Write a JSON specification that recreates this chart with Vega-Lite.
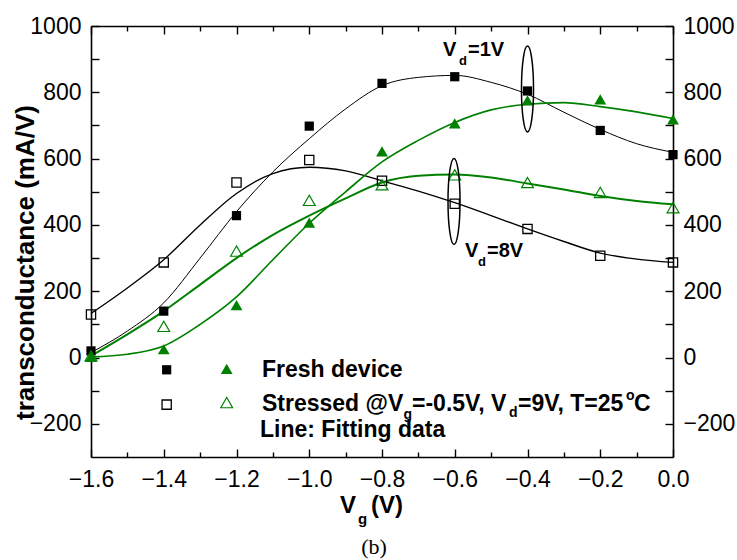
{
  "$schema": "https://vega.github.io/schema/vega-lite/v6.json",
  "width": 582,
  "height": 431,
  "autosize": {"type": "none"},
  "padding": {"left": 91, "top": 26, "right": 64, "bottom": 103},
  "background": "white",
  "config": {
    "view": {"stroke": null},
    "axis": {
      "labelFont": "Liberation Sans", "labelFontSize": 23, "labelColor": "black",
      "domainColor": "black", "tickColor": "black", "domainWidth": 1.6, "tickWidth": 1.4,
      "grid": false, "titleFont": "Liberation Sans", "titleColor": "black"
    },
    "text": {"font": "Liberation Sans", "color": "black"}
  },
  "datasets": {
    "points": [
      {"series": "sq_filled", "vg": -1.6, "gm": 20},
      {"series": "sq_filled", "vg": -1.4, "gm": 140},
      {"series": "sq_filled", "vg": -1.2, "gm": 428},
      {"series": "sq_filled", "vg": -1.0, "gm": 698},
      {"series": "sq_filled", "vg": -0.8, "gm": 827},
      {"series": "sq_filled", "vg": -0.6, "gm": 847},
      {"series": "sq_filled", "vg": -0.4, "gm": 804},
      {"series": "sq_filled", "vg": -0.2, "gm": 685},
      {"series": "sq_filled", "vg": 0.0, "gm": 612},
      {"series": "sq_open", "vg": -1.6, "gm": 130},
      {"series": "sq_open", "vg": -1.4, "gm": 287},
      {"series": "sq_open", "vg": -1.2, "gm": 528},
      {"series": "sq_open", "vg": -1.0, "gm": 596},
      {"series": "sq_open", "vg": -0.8, "gm": 533},
      {"series": "sq_open", "vg": -0.6, "gm": 464},
      {"series": "sq_open", "vg": -0.4, "gm": 388},
      {"series": "sq_open", "vg": -0.2, "gm": 307},
      {"series": "sq_open", "vg": 0.0, "gm": 287},
      {"series": "tri_filled", "vg": -1.6, "gm": 2},
      {"series": "tri_filled", "vg": -1.4, "gm": 25},
      {"series": "tri_filled", "vg": -1.2, "gm": 158},
      {"series": "tri_filled", "vg": -1.0, "gm": 407},
      {"series": "tri_filled", "vg": -0.8, "gm": 622},
      {"series": "tri_filled", "vg": -0.6, "gm": 706},
      {"series": "tri_filled", "vg": -0.4, "gm": 776},
      {"series": "tri_filled", "vg": -0.2, "gm": 779},
      {"series": "tri_filled", "vg": 0.0, "gm": 718},
      {"series": "tri_open", "vg": -1.6, "gm": 5},
      {"series": "tri_open", "vg": -1.4, "gm": 94},
      {"series": "tri_open", "vg": -1.2, "gm": 321},
      {"series": "tri_open", "vg": -1.0, "gm": 474},
      {"series": "tri_open", "vg": -0.8, "gm": 521},
      {"series": "tri_open", "vg": -0.6, "gm": 551},
      {"series": "tri_open", "vg": -0.4, "gm": 528},
      {"series": "tri_open", "vg": -0.2, "gm": 498},
      {"series": "tri_open", "vg": 0.0, "gm": 452},
      {"series": "sq_filled", "vg": -1.392, "gm": -37},
      {"series": "tri_filled", "vg": -1.227, "gm": -34},
      {"series": "sq_open", "vg": -1.392, "gm": -142},
      {"series": "tri_open", "vg": -1.227, "gm": -136}
    ],
    "fits": [
      {"series": "fit_sq_filled", "vg": -1.6, "gm": 15},
      {"series": "fit_sq_filled", "vg": -1.5, "gm": 80},
      {"series": "fit_sq_filled", "vg": -1.4, "gm": 165},
      {"series": "fit_sq_filled", "vg": -1.3, "gm": 300},
      {"series": "fit_sq_filled", "vg": -1.2, "gm": 440},
      {"series": "fit_sq_filled", "vg": -1.1, "gm": 560},
      {"series": "fit_sq_filled", "vg": -1.0, "gm": 660},
      {"series": "fit_sq_filled", "vg": -0.9, "gm": 750},
      {"series": "fit_sq_filled", "vg": -0.8, "gm": 820},
      {"series": "fit_sq_filled", "vg": -0.7, "gm": 845},
      {"series": "fit_sq_filled", "vg": -0.6, "gm": 851},
      {"series": "fit_sq_filled", "vg": -0.5, "gm": 830},
      {"series": "fit_sq_filled", "vg": -0.4, "gm": 794},
      {"series": "fit_sq_filled", "vg": -0.3, "gm": 740},
      {"series": "fit_sq_filled", "vg": -0.2, "gm": 688},
      {"series": "fit_sq_filled", "vg": -0.1, "gm": 645},
      {"series": "fit_sq_filled", "vg": 0.0, "gm": 619},
      {"series": "fit_sq_open", "vg": -1.6, "gm": 133},
      {"series": "fit_sq_open", "vg": -1.5, "gm": 210},
      {"series": "fit_sq_open", "vg": -1.4, "gm": 295},
      {"series": "fit_sq_open", "vg": -1.3, "gm": 400},
      {"series": "fit_sq_open", "vg": -1.2, "gm": 495},
      {"series": "fit_sq_open", "vg": -1.1, "gm": 555},
      {"series": "fit_sq_open", "vg": -1.0, "gm": 574},
      {"series": "fit_sq_open", "vg": -0.9, "gm": 563},
      {"series": "fit_sq_open", "vg": -0.8, "gm": 533},
      {"series": "fit_sq_open", "vg": -0.7, "gm": 502},
      {"series": "fit_sq_open", "vg": -0.6, "gm": 467},
      {"series": "fit_sq_open", "vg": -0.5, "gm": 428},
      {"series": "fit_sq_open", "vg": -0.4, "gm": 388},
      {"series": "fit_sq_open", "vg": -0.3, "gm": 350},
      {"series": "fit_sq_open", "vg": -0.2, "gm": 315},
      {"series": "fit_sq_open", "vg": -0.1, "gm": 297},
      {"series": "fit_sq_open", "vg": 0.0, "gm": 287},
      {"series": "fit_tri_filled", "vg": -1.6, "gm": 2},
      {"series": "fit_tri_filled", "vg": -1.5, "gm": 10},
      {"series": "fit_tri_filled", "vg": -1.4, "gm": 35},
      {"series": "fit_tri_filled", "vg": -1.3, "gm": 100},
      {"series": "fit_tri_filled", "vg": -1.2, "gm": 183},
      {"series": "fit_tri_filled", "vg": -1.1, "gm": 295},
      {"series": "fit_tri_filled", "vg": -1.0, "gm": 405},
      {"series": "fit_tri_filled", "vg": -0.9, "gm": 500},
      {"series": "fit_tri_filled", "vg": -0.8, "gm": 590},
      {"series": "fit_tri_filled", "vg": -0.7, "gm": 655},
      {"series": "fit_tri_filled", "vg": -0.6, "gm": 709},
      {"series": "fit_tri_filled", "vg": -0.5, "gm": 747},
      {"series": "fit_tri_filled", "vg": -0.4, "gm": 764},
      {"series": "fit_tri_filled", "vg": -0.3, "gm": 769},
      {"series": "fit_tri_filled", "vg": -0.2, "gm": 757},
      {"series": "fit_tri_filled", "vg": -0.1, "gm": 741},
      {"series": "fit_tri_filled", "vg": 0.0, "gm": 721},
      {"series": "fit_tri_open", "vg": -1.6, "gm": 5},
      {"series": "fit_tri_open", "vg": -1.5, "gm": 70},
      {"series": "fit_tri_open", "vg": -1.4, "gm": 140},
      {"series": "fit_tri_open", "vg": -1.3, "gm": 220},
      {"series": "fit_tri_open", "vg": -1.2, "gm": 300},
      {"series": "fit_tri_open", "vg": -1.1, "gm": 370},
      {"series": "fit_tri_open", "vg": -1.0, "gm": 428},
      {"series": "fit_tri_open", "vg": -0.9, "gm": 480},
      {"series": "fit_tri_open", "vg": -0.8, "gm": 528},
      {"series": "fit_tri_open", "vg": -0.7, "gm": 548},
      {"series": "fit_tri_open", "vg": -0.6, "gm": 552},
      {"series": "fit_tri_open", "vg": -0.5, "gm": 543},
      {"series": "fit_tri_open", "vg": -0.4, "gm": 525},
      {"series": "fit_tri_open", "vg": -0.3, "gm": 507},
      {"series": "fit_tri_open", "vg": -0.2, "gm": 487},
      {"series": "fit_tri_open", "vg": -0.1, "gm": 472},
      {"series": "fit_tri_open", "vg": 0.0, "gm": 462}
    ],
    "ellipses": [
      {"vg": -0.4, "gm": 810},
      {"vg": -0.602, "gm": 471}
    ],
    "notes": [
      {"role": "legend", "t": "Fresh device", "x": -1.1299, "y": -37},
      {"role": "legend", "t": "Stressed @V", "x": -1.1299, "y": -140},
      {"role": "legsub", "t": "g", "x": -0.741, "y": -173},
      {"role": "legend", "t": "=-0.5V, V", "x": -0.7175, "y": -140},
      {"role": "legsub", "t": "d", "x": -0.4508, "y": -167},
      {"role": "legend", "t": "=9V, T=25", "x": -0.4261, "y": -140},
      {"role": "legsub", "t": "o", "x": -0.1292, "y": -115},
      {"role": "legend", "t": "C", "x": -0.1072, "y": -140},
      {"role": "legend", "t": "Line: Fitting data", "x": -1.1354, "y": -218},
      {"role": "vd", "t": "V", "x": -0.6323, "y": 928},
      {"role": "vdsub", "t": "d", "x": -0.5883, "y": 894},
      {"role": "vd", "t": "=1V", "x": -0.5636, "y": 928},
      {"role": "vd", "t": "V", "x": -0.5718, "y": 321},
      {"role": "vdsub", "t": "d", "x": -0.5361, "y": 287},
      {"role": "vd", "t": "=8V", "x": -0.5113, "y": 321},
      {"role": "xt", "t": "V", "x": -0.9155, "y": -448},
      {"role": "xtsub", "t": "g", "x": -0.866, "y": -487},
      {"role": "xt", "t": "(V)", "x": -0.8302, "y": -448},
      {"role": "cap", "t": "(b)", "x": -0.822, "y": -572}
    ]
  },
  "layer": [
    {
      "data": {"name": "fits"},
      "mark": {"type": "line", "interpolate": "monotone"},
      "encoding": {
        "x": {"field": "vg", "type": "quantitative", "scale": {"domain": [-1.6, 0], "nice": false, "zero": false}, "axis": null},
        "y": {"field": "gm", "type": "quantitative", "scale": {"domain": [-300, 1000], "nice": false, "zero": false}, "axis": null},
        "detail": {"field": "series"},
        "color": {"field": "series", "type": "nominal", "legend": null,
          "scale": {"domain": ["fit_sq_filled", "fit_sq_open", "fit_tri_filled", "fit_tri_open"], "range": ["black", "black", "#008000", "#008000"]}},
        "strokeWidth": {"field": "series", "type": "nominal", "legend": null,
          "scale": {"domain": ["fit_sq_filled", "fit_sq_open", "fit_tri_filled", "fit_tri_open"], "range": [1, 2, 1, 2]}}
      }
    },
    {
      "data": {"name": "points"},
      "transform": [{"filter": "datum.series === 'sq_filled'"}],
      "mark": {"type": "point", "shape": "square", "filled": true, "color": "black", "size": 85, "opacity": 1},
      "encoding": {
        "x": {"field": "vg", "type": "quantitative", "scale": {"domain": [-1.6, 0], "nice": false, "zero": false},
          "axis": {"orient": "bottom", "values": [-1.6, -1.4, -1.2, -1.0, -0.8, -0.6, -0.4, -0.2, 0.0], "format": ".1f", "tickSize": -8, "labelPadding": 19, "title": null, "labelFlush": false}},
        "y": {"field": "gm", "type": "quantitative", "scale": {"domain": [-300, 1000], "nice": false, "zero": false},
          "axis": {"orient": "left", "values": [-200, -100, 0, 100, 200, 300, 400, 500, 600, 700, 800, 900, 1000], "format": "d",
            "labelExpr": "datum.value % 200 === 0 ? datum.label : ''", "tickSize": -8, "labelPadding": 18,
            "title": "transconductance (mA/V)", "titleFontSize": 26, "titleFontWeight": "bold",
            "titleX": -58, "titleY": 236, "titleBaseline": "alphabetic", "titleAngle": -90, "titleAlign": "center"}}
      }
    },
    {
      "data": {"name": "points"},
      "transform": [{"filter": "datum.series === 'sq_open'"}],
      "mark": {"type": "point", "shape": "square", "filled": false, "stroke": "black", "strokeWidth": 1.3, "size": 85, "opacity": 1},
      "encoding": {
        "x": {"field": "vg", "type": "quantitative", "scale": {"domain": [-1.6, 0], "nice": false, "zero": false},
          "axis": {"orient": "top", "values": [-1.6, -1.4, -1.2, -1.0, -0.8, -0.6, -0.4, -0.2, 0.0], "labels": false, "tickSize": -8, "title": null}},
        "y": {"field": "gm", "type": "quantitative", "scale": {"domain": [-300, 1000], "nice": false, "zero": false},
          "axis": {"orient": "right", "values": [-200, -100, 0, 100, 200, 300, 400, 500, 600, 700, 800, 900, 1000], "format": "d",
            "labelExpr": "datum.value % 200 === 0 ? datum.label : ''", "tickSize": -8, "labelPadding": 18, "title": null}}
      }
    },
    {
      "data": {"name": "points"},
      "transform": [{"filter": "datum.series === 'tri_filled'"}],
      "mark": {"type": "point", "shape": "triangle-up", "filled": true, "color": "#008000", "size": 140, "opacity": 1},
      "encoding": {
        "x": {"field": "vg", "type": "quantitative", "scale": {"domain": [-1.6, 0], "nice": false, "zero": false},
          "axis": {"orient": "bottom", "values": [-1.5, -1.3, -1.1, -0.9, -0.7, -0.5, -0.3, -0.1], "labels": false, "domain": false, "tickSize": -5, "title": null}},
        "y": {"field": "gm", "type": "quantitative", "scale": {"domain": [-300, 1000], "nice": false, "zero": false}, "axis": null}
      }
    },
    {
      "data": {"name": "points"},
      "transform": [{"filter": "datum.series === 'tri_open'"}],
      "mark": {"type": "point", "shape": "triangle-up", "filled": false, "stroke": "#008000", "strokeWidth": 1.2, "size": 140, "opacity": 1},
      "encoding": {
        "x": {"field": "vg", "type": "quantitative", "scale": {"domain": [-1.6, 0], "nice": false, "zero": false},
          "axis": {"orient": "top", "values": [-1.5, -1.3, -1.1, -0.9, -0.7, -0.5, -0.3, -0.1], "labels": false, "domain": false, "tickSize": -5, "title": null}},
        "y": {"field": "gm", "type": "quantitative", "scale": {"domain": [-300, 1000], "nice": false, "zero": false}, "axis": null}
      }
    },
    {
      "data": {"name": "ellipses"},
      "mark": {"type": "point", "shape": "M0,-1C0.0773,-1,0.14,-0.5523,0.14,0C0.14,0.5523,0.0773,1,0,1C-0.0773,1,-0.14,0.5523,-0.14,0C-0.14,-0.5523,-0.0773,-1,0,-1Z", "size": 7396, "filled": false, "stroke": "black", "strokeWidth": 1.5, "opacity": 1},
      "encoding": {
        "x": {"field": "vg", "type": "quantitative", "scale": {"domain": [-1.6, 0], "nice": false, "zero": false}, "axis": null},
        "y": {"field": "gm", "type": "quantitative", "scale": {"domain": [-300, 1000], "nice": false, "zero": false}, "axis": null}
      }
    },
    {
      "data": {"name": "notes"},
      "transform": [{"filter": "datum.role === 'legend'"}],
      "mark": {"type": "text", "align": "left", "baseline": "middle", "fontSize": 23, "fontWeight": "bold", "font": "Liberation Sans"},
      "encoding": {
        "x": {"field": "x", "type": "quantitative", "scale": {"domain": [-1.6, 0], "nice": false, "zero": false}, "axis": null},
        "y": {"field": "y", "type": "quantitative", "scale": {"domain": [-300, 1000], "nice": false, "zero": false}, "axis": null},
        "text": {"field": "t"}
      }
    },
    {
      "data": {"name": "notes"},
      "transform": [{"filter": "datum.role === 'legsub'"}],
      "mark": {"type": "text", "align": "left", "baseline": "middle", "fontSize": 14, "fontWeight": "bold", "font": "Liberation Sans"},
      "encoding": {
        "x": {"field": "x", "type": "quantitative", "scale": {"domain": [-1.6, 0], "nice": false, "zero": false}, "axis": null},
        "y": {"field": "y", "type": "quantitative", "scale": {"domain": [-300, 1000], "nice": false, "zero": false}, "axis": null},
        "text": {"field": "t"}
      }
    },
    {
      "data": {"name": "notes"},
      "transform": [{"filter": "datum.role === 'vd'"}],
      "mark": {"type": "text", "align": "left", "baseline": "middle", "fontSize": 20, "fontWeight": "bold", "font": "Liberation Sans"},
      "encoding": {
        "x": {"field": "x", "type": "quantitative", "scale": {"domain": [-1.6, 0], "nice": false, "zero": false}, "axis": null},
        "y": {"field": "y", "type": "quantitative", "scale": {"domain": [-300, 1000], "nice": false, "zero": false}, "axis": null},
        "text": {"field": "t"}
      }
    },
    {
      "data": {"name": "notes"},
      "transform": [{"filter": "datum.role === 'vdsub'"}],
      "mark": {"type": "text", "align": "left", "baseline": "middle", "fontSize": 13, "fontWeight": "bold", "font": "Liberation Sans"},
      "encoding": {
        "x": {"field": "x", "type": "quantitative", "scale": {"domain": [-1.6, 0], "nice": false, "zero": false}, "axis": null},
        "y": {"field": "y", "type": "quantitative", "scale": {"domain": [-300, 1000], "nice": false, "zero": false}, "axis": null},
        "text": {"field": "t"}
      }
    },
    {
      "data": {"name": "notes"},
      "transform": [{"filter": "datum.role === 'xt'"}],
      "mark": {"type": "text", "align": "left", "baseline": "middle", "fontSize": 24, "fontWeight": "bold", "font": "Liberation Sans"},
      "encoding": {
        "x": {"field": "x", "type": "quantitative", "scale": {"domain": [-1.6, 0], "nice": false, "zero": false}, "axis": null},
        "y": {"field": "y", "type": "quantitative", "scale": {"domain": [-300, 1000], "nice": false, "zero": false}, "axis": null},
        "text": {"field": "t"}
      }
    },
    {
      "data": {"name": "notes"},
      "transform": [{"filter": "datum.role === 'xtsub'"}],
      "mark": {"type": "text", "align": "left", "baseline": "middle", "fontSize": 15, "fontWeight": "bold", "font": "Liberation Sans"},
      "encoding": {
        "x": {"field": "x", "type": "quantitative", "scale": {"domain": [-1.6, 0], "nice": false, "zero": false}, "axis": null},
        "y": {"field": "y", "type": "quantitative", "scale": {"domain": [-300, 1000], "nice": false, "zero": false}, "axis": null},
        "text": {"field": "t"}
      }
    },
    {
      "data": {"name": "notes"},
      "transform": [{"filter": "datum.role === 'cap'"}],
      "mark": {"type": "text", "align": "center", "baseline": "middle", "fontSize": 22, "font": "Liberation Serif"},
      "encoding": {
        "x": {"field": "x", "type": "quantitative", "scale": {"domain": [-1.6, 0], "nice": false, "zero": false}, "axis": null},
        "y": {"field": "y", "type": "quantitative", "scale": {"domain": [-300, 1000], "nice": false, "zero": false}, "axis": null},
        "text": {"field": "t"}
      }
    }
  ],
  "resolve": {"axis": {"x": "independent", "y": "independent"}}
}
